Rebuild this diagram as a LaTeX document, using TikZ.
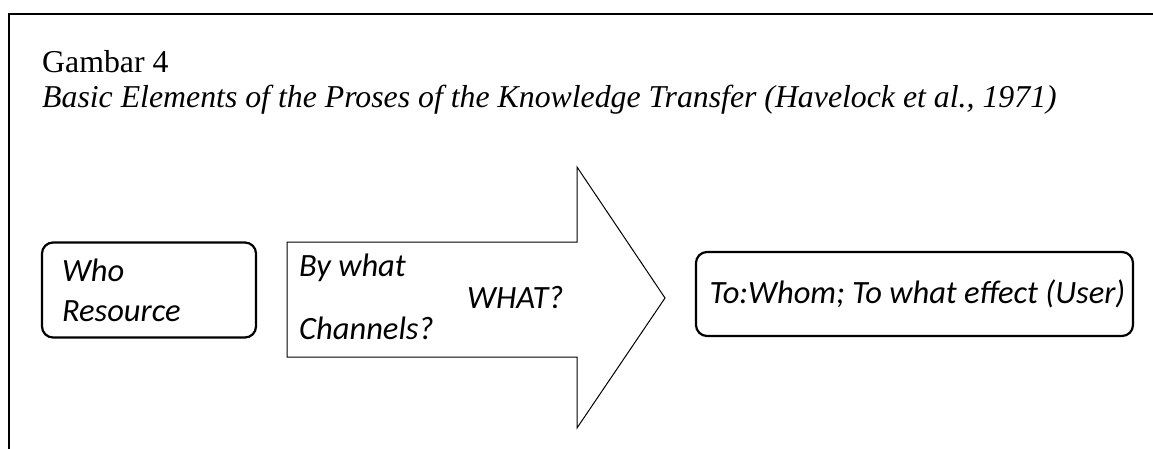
\documentclass[tikz,border=0pt]{standalone}
\usepackage{fontspec}
\setmainfont{Liberation Serif}
\newfontfamily\calibri{Carlito}
\usetikzlibrary{positioning}

\begin{document}
\begin{tikzpicture}[x=1pt,y=-1pt]
			\tikzset{box/.style={draw,line width=2.2pt,rounded corners=11pt},
				txt/.style={font=\calibri\itshape\fontsize{32.5}{40}\selectfont},
				ttl/.style={font=\fontsize{31.8}{38}\selectfont,anchor=base west,inner sep=0pt}}
			\useasboundingbox (0,0) rectangle (1153,449);
			\draw[line width=1.3pt] (9,449) -- (9,14) -- (1153,14);

			\node[ttl] (fig) at (42,73) {Gambar 4};
			\node[ttl,font=\fontsize{31.8}{38}\selectfont\itshape] (cap) at (42,108) {Basic Elements of the Proses of the Knowledge Transfer (Havelock et al., 1971)};

			\node[box,txt,minimum width=214pt,minimum height=95pt,align=left,text width=174pt] (who) at (149,290) {Who\\Resource};

			% big arrow
			\coordinate (A) at (287,242);
			\draw[line width=1pt] (A) -- (577,242) -- (577,167) -- (665,298) coordinate (tip) -- (577,428) -- (577,357) -- (287,357) -- cycle;
			\node[txt,anchor=base west,inner sep=0pt] (by) at (299,276) {By what};
			\node[txt,anchor=base west,inner sep=0pt] (what) at (467,308) {WHAT?};
			\node[txt,anchor=base west,inner sep=0pt] (chan) at (299,339) {Channels?};

			\node[box,minimum width=437pt,minimum height=84pt] (user) at (914.5,294) {};
			\node[txt,inner sep=0pt] (usertxt) at (917.5,294) {To:Whom; To what effect (User)};
		\end{tikzpicture}
\end{document}
